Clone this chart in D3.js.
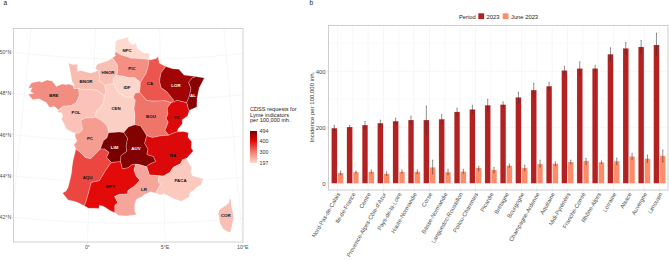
<!DOCTYPE html>
<html><head><meta charset="utf-8">
<style>html,body{margin:0;background:#fff}svg{display:block;font-family:"Liberation Sans",Arial,sans-serif}</style>
<script src="https://cdn.jsdelivr.net/npm/d3@7"></script></head>
<body><svg id="c" width="669" height="261"></svg>
<script>
// ---- bar chart data
const categories=["Nord-Pas-de-Calais","Ile-de-France","Centre","Provence-Alpes-Côte-d'Azur","Pays-de-la-Loire","Haute-Normandie","Corse","Basse-Normandie","Languedoc-Roussillon","Poitou-Charentes","Picardie","Bretagne","Bourgogne","Champagne-Ardenne","Aquitaine","Midi-Pyrénées","Franche-Comté","Rhône-Alpes","Lorraine","Alsace","Auvergne","Limousin"];
const regionCodes=["NPC","IDF","CEN","PACA","POL","HNOR","COR","BNOR","LR","PC","PIC","BRE","BOU","CA","AQU","MPY","FC","RA","LOR","AL","AUV","LIM"];
const values2023=[197,201,208,215,222,226,226,229,255,264,279,281,307,333,347,403,410,410,461,482,487,494];
const upper2023=[207,207,221,226,233,240,276,246,268,279,300,291,326,357,361,418,434,421,484,503,510,536];
const lower2023=[187,195,195,204,211,212,176,212,242,249,258,271,288,309,333,388,386,399,438,461,464,456];
const valuesJune=[37,40,41,34,41,41,57,40,42,55,48,63,55,69,70,76,80,75,79,96,88,98];
const upperJune=[44,44,48,41,48,48,83,50,50,61,57,69,65,83,77,83,89,80,90,107,101,119];
const lowerJune=[30,37,36,28,36,35,33,31,36,45,38,57,45,58,63,69,67,70,67,86,75,76];
const yTicks=[0,200,400];
const periods=["2023","June 2023"];
const periodColors=["#B22222","#FF8C69"];

// ---- map data: borders in degrees (longitude, latitude)
const bNpcCoast=[[1.58,50.37],[1.56,50.5],[1.58,50.72],[1.58,50.87],[1.85,50.96],[2.38,51.04],[2.55,51.08],[2.6,50.85],[2.9,50.7],[3.15,50.78],[3.28,50.52],[3.7,50.32],[3.72,50.3],[4.2,50.27],[4.15,49.98]];
const bPicCoast=[[1.58,50.37],[1.55,50.2],[1.62,50.18],[1.37,50.06]];
const bNhorCoast=[[1.37,50.06],[1.08,49.93],[.37,49.76],[.17,49.68],[.1,49.49],[.3,49.43]];
const bBnorCoast=[[.3,49.43],[.07,49.36],[-.25,49.28],[-.62,49.34],[-1.05,49.39],[-1.24,49.33],[-1.26,49.59],[-1.26,49.68],[-1.62,49.65],[-1.94,49.72],[-1.79,49.37],[-1.6,48.84],[-1.4,48.65],[-1.5,48.63]];
const bBreCoast=[[-1.5,48.63],[-1.85,48.69],[-2.02,48.65],[-2.32,48.68],[-2.73,48.53],[-3.04,48.78],[-3.44,48.82],[-3.85,48.68],[-3.98,48.72],[-4.57,48.62],[-4.77,48.33],[-4.49,48.38],[-4.6,48.2],[-4.33,48.1],[-4.73,48.04],[-4.37,47.8],[-3.92,47.87],[-3.37,47.72],[-3.12,47.5],[-2.76,47.55],[-2.45,47.4]];
const bPolCoast=[[-2.45,47.4],[-2.52,47.3],[-2.2,47.27],[-2.1,47.11],[-2.2,46.97],[-1.94,46.69],[-1.79,46.49],[-1.3,46.33],[-1.15,46.33]];
const bPcCoast=[[-1.15,46.33],[-1.15,46.16],[-1,45.94],[-1.2,45.75],[-1.05,45.55]];
const bAquCoast=[[-1.05,45.55],[-1.2,45.0],[-1.25,44.65],[-1.26,44.4],[-1.3,44.2],[-1.44,43.66],[-1.56,43.48],[-1.79,43.37],[-1.4,43.05],[-1,43],[-.75,42.95],[-.3,42.8]];
const bMpyFrontier=[[-.3,42.8],[0,42.69],[.35,42.7],[.68,42.7],[.7,42.85],[1,42.8],[1.44,42.6],[1.74,42.5]];
const bLrCoast=[[1.74,42.5],[2,42.37],[2.5,42.35],[3.17,42.43],[3.04,42.6],[3.04,42.9],[3.16,43.17],[3.5,43.28],[3.7,43.4],[4.13,43.53],[4.45,43.45]];
const bPacaCoast=[[4.45,43.45],[4.85,43.35],[4.95,43.43],[5.35,43.3],[5.54,43.2],[5.93,43.08],[6.15,43.03],[6.68,43.2],[6.75,43.42],[7.02,43.54],[7.27,43.69],[7.53,43.78],[7.7,44.07],[7,44.23],[6.87,44.42],[6.95,44.65],[6.63,45.1]];
const bRaFrontier=[[6.63,45.1],[7.12,45.45],[7,45.6],[7.04,45.92],[6.8,46.13],[6.85,46.35],[6.5,46.42],[6.07,46.42]];
const bFcFrontier=[[6.07,46.42],[6.12,46.56],[6.45,46.8],[6.45,47],[6.85,47.17],[7,47.45]];
const bAlFrontier=[[7,47.45],[7.55,47.58],[7.6,48],[7.8,48.5],[8.23,48.97],[7.6,49.07]];
const bLorFrontier=[[7.6,49.07],[6.73,49.17],[6.37,49.47],[5.9,49.5],[5.39,49.62]];
const bCaFrontier=[[5.39,49.62],[4.9,49.8],[4.83,50.15],[4.7,50.03],[4.25,49.96],[4.15,49.98]];
const bNpcPic=[[1.58,50.37],[2,50.2],[2.45,50.13],[2.75,50.05],[3.1,50.05],[3.6,50.02],[4.15,49.98]];
const bPicCa=[[4.15,49.98],[4.05,49.6],[3.9,49.3],[3.65,49.05],[3.48,48.87]];
const bPicIdf=[[3.48,48.87],[3.07,49.1],[2.6,49.1],[2.2,49.17],[1.7,49.2]];
const bPicNhor=[[1.7,49.2],[1.78,49.45],[1.75,49.7],[1.37,50.06]];
const bNhorIdf=[[1.7,49.2],[1.45,49.05],[1.5,48.8]];
const bNhorCen=[[1.5,48.8],[1.2,48.78],[.85,48.7]];
const bNhorBnor=[[.85,48.7],[.6,48.85],[.4,48.9],[.4,49.25],[.3,49.43]];
const bIdfCen=[[1.5,48.8],[1.6,48.65],[1.8,48.4],[2,48.3],[2.4,48.15],[2.95,48.15]];
const bIdfBou=[[2.95,48.15],[3.1,48.35],[3.42,48.38]];
const bIdfCa=[[3.42,48.38],[3.45,48.6],[3.48,48.87]];
const bCaBou=[[3.42,48.38],[3.6,48.25],[3.9,48],[4.3,47.95],[4.85,47.95],[5.3,47.95],[5.7,47.85]];
const bCaLor=[[5.7,47.85],[5.9,47.97],[5.4,48.4],[5,48.6],[4.9,48.9],[5,49.3],[5.39,49.62]];
const bLorFc=[[5.7,47.85],[6.15,47.95],[6.83,47.82]];
const bLorAl=[[6.83,47.82],[7,48.05],[7.1,48.25],[7.2,48.5],[7.05,48.8],[7.3,49],[7.6,49.07]];
const bFcAl=[[6.83,47.82],[6.93,47.5],[7,47.45]];
const bFcBou=[[5.7,47.85],[5.4,47.6],[5.45,47.3],[5.3,47.1],[5.45,46.9],[5.2,46.5],[5.47,46.27]];
const bFcRa=[[5.47,46.27],[5.65,46.33],[6.07,46.42]];
const bBouRa=[[5.47,46.27],[4.9,46.25],[4.3,46.17],[3.9,46.27]];
const bBouAuv=[[3.9,46.27],[3.7,46.5],[3.45,46.75],[3.05,46.8]];
const bBouCen=[[3.05,46.8],[3.07,47.3],[3,47.6],[3.1,48],[2.95,48.15]];
const bCenAuv=[[3.05,46.8],[2.6,46.7],[2.28,46.42]];
const bAuvLim=[[2.28,46.42],[2.55,46.15],[2.45,45.75],[2.5,45.5],[2.1,45.3],[2.07,45]];
const bAuvMpy=[[2.07,45],[2.2,44.65],[2.6,44.7],[2.85,44.85],[3.12,44.88]];
const bAuvLr=[[3.12,44.88],[3.4,44.85],[3.87,44.75]];
const bAuvRa=[[3.87,44.75],[4,44.85],[4.5,45],[4.35,45.25],[3.9,45.35],[3.98,45.6],[3.75,45.9],[3.9,46.27]];
const bLimMpy=[[2.07,45],[1.43,44.95]];
const bLimAqu=[[1.43,44.95],[1.1,45.2],[1.25,45.45],[.95,45.6],[.65,45.6]];
const bLimPc=[[.65,45.6],[.85,46],[1.1,46.15],[1.2,46.4]];
const bLimCen=[[1.2,46.4],[1.95,46.45],[2.28,46.42]];
const bPcCen=[[1.2,46.4],[1.1,46.7],[.85,46.9],[.65,47],[.2,47.15]];
const bPcPol=[[.2,47.15],[.05,47.1],[-.5,47.08],[-.8,46.95],[-.65,46.5],[-.9,46.32],[-1.15,46.33]];
const bPcAqu=[[-1.05,45.55],[-.75,45.4],[-.35,45.15],[0,45.1],[.25,45.3],[.65,45.6]];
const bCenPol=[[.2,47.15],[.3,47.45],[.6,47.65],[.8,47.88],[.83,48.2]];
const bCenBnor=[[.83,48.2],[.95,48.4],[.85,48.7]];
const bPolBnor=[[.83,48.2],[.3,48.45],[-.2,48.48],[-.75,48.45],[-1.07,48.5]];
const bBreBnor=[[-1.07,48.5],[-1.43,48.48],[-1.5,48.63]];
const bBrePol=[[-1.07,48.5],[-1,48.15],[-1.2,47.8],[-1.55,47.65],[-2.1,47.6],[-2.45,47.4]];
const bAquMpy=[[1.43,44.95],[1.05,44.55],[.85,44.3],[.65,44.05],[.1,43.95],[0,43.6],[-.1,43.3],[-.2,43],[-.3,42.8]];
const bMpyLr=[[3.12,44.88],[3,44.6],[3.15,44.3],[3.4,44.1],[3.1,43.85],[2.6,43.6],[2.55,43.42],[2,43.4],[1.7,43.3],[1.93,43],[1.73,42.87],[1.74,42.5]];
const bRaLr=[[3.87,44.75],[4.05,44.35],[4.7,44.3]];
const bRaPaca=[[4.7,44.3],[5,44.28],[5.45,44.45],[5.7,44.7],[6.2,44.85],[6.35,45.05],[6.63,45.1]];
const bLrPaca=[[4.7,44.3],[4.65,44],[4.8,43.9],[4.65,43.7],[4.45,43.45]];
const ringCor=[[9.38,43.01],[9.47,42.95],[9.45,42.7],[9.55,42.1],[9.4,41.7],[9.27,41.4],[9.15,41.38],[8.8,41.55],[8.6,41.9],[8.6,42.05],[8.55,42.35],[8.7,42.55],[9.1,42.7],[9.3,42.8]];
const regionBorders={
 NPC:[bNpcCoast,bNpcPic],
 PIC:[bPicCoast,bPicNhor,bPicIdf,bPicCa,bNpcPic],
 HNOR:[bNhorCoast,bNhorBnor,bNhorCen,bNhorIdf,bPicNhor],
 BNOR:[bBnorCoast,bBreBnor,bPolBnor,bCenBnor,bNhorBnor],
 BRE:[bBreCoast,bBrePol,bBreBnor],
 POL:[bPolCoast,bPcPol,bCenPol,bPolBnor,bBrePol],
 IDF:[bPicIdf,bNhorIdf,bIdfCen,bIdfBou,bIdfCa],
 CA:[bCaFrontier,bPicCa,bIdfCa,bCaBou,bCaLor],
 LOR:[bLorFrontier,bCaLor,bLorFc,bLorAl],
 AL:[bAlFrontier,bLorAl,bFcAl],
 CEN:[bNhorCen,bIdfCen,bBouCen,bCenAuv,bLimCen,bPcCen,bCenPol,bCenBnor],
 BOU:[bCaBou,bFcBou,bBouRa,bBouAuv,bBouCen,bIdfBou],
 FC:[bFcFrontier,bFcAl,bLorFc,bFcBou,bFcRa],
 PC:[bPcCoast,bPcAqu,bLimPc,bPcCen,bPcPol],
 LIM:[bLimCen,bAuvLim,bLimMpy,bLimAqu,bLimPc],
 AUV:[bBouAuv,bAuvRa,bAuvLr,bAuvMpy,bAuvLim,bCenAuv],
 RA:[bRaFrontier,bFcRa,bBouRa,bAuvRa,bRaLr,bRaPaca],
 AQU:[bAquCoast,bAquMpy,bLimAqu,bPcAqu],
 MPY:[bMpyFrontier,bMpyLr,bAuvMpy,bLimMpy,bAquMpy],
 LR:[bLrCoast,bLrPaca,bRaLr,bAuvLr,bMpyLr],
 PACA:[bPacaCoast,bRaPaca,bLrPaca]
};
const labelCodes=["NPC","PIC","HNOR","BNOR","BRE","IDF","CA","LOR","AL","CEN","POL","BOU","FC","LIM","AUV","PC","RA","AQU","MPY","LR","PACA","COR"];
const labelLon=[2.47,2.85,1.06,-.56,-2.86,2.48,4.18,6.1,7.32,1.7,-1.18,4.22,6.08,1.64,3.14,-.1,5.7,-.16,1.41,3.67,6.16,9.04];
const labelLat=[50.45,49.57,49.33,48.89,48.1,48.65,48.84,48.7,48.18,47.62,47.35,47.23,47.1,45.67,45.67,46.11,45.3,44.2,43.8,43.64,44.06,42.2];
const whiteLabels=["LIM","AUV","LOR","AL"];
const latTicks=[42,44,46,48,50];
const lonTicks=[0,5,10];
const legendTicks=[197,300,400,494];
const legendColors=["#fdd9cf","#f07c70","#e60a0a","#7a0000"];
const legendTitle=["CDSS requests for","Lyme indicators","per 100,000 inh."];

const svg=d3.select("#c");
const gray="#4d4d4d",frame="#c8c8c8",grid="#f0f0f0";
const txt=(x,y,s,size,fill,anchor)=>svg.append("text").attr("x",x).attr("y",y).attr("font-size",size).attr("fill",fill||gray).attr("text-anchor",anchor||"start").text(s);
txt(3.5,5.3,"a",6.5,"#222"); txt(309.5,5.3,"b",6.5,"#222");

// ---- map panel
const P={l:13.5,r:243,t:28.5,b:242};
const projection=d3.geoConicConformal().parallels([44,49]).rotate([-3,0]).center([0,46.5]).scale(1175).translate([134,131]).precision(.1);
const path=d3.geoPath(projection);
svg.append("clipPath").attr("id","mapclip").append("rect").attr("x",P.l).attr("y",P.t).attr("width",P.r-P.l).attr("height",P.b-P.t);
const mapG=svg.append("g").attr("clip-path","url(#mapclip)");
const grat=d3.geoGraticule().extent([[-15,38],[18,55]]).step([5,2]).precision(1);
mapG.append("path").datum(grat()).attr("d",path).attr("fill","none").attr("stroke","#ececec").attr("stroke-width",.5);

const valueOf=Object.fromEntries(regionCodes.map((c,i)=>[c,values2023[i]]));
const color=d3.scaleLinear().domain(legendTicks).range(legendColors);
function chain(arcs){
 const d=(a,b)=>Math.hypot(a[0]-b[0],a[1]-b[1]);
 let out=arcs[0].slice();
 const n=arcs[1];
 if(Math.min(d(out[0],n[0]),d(out[0],n[n.length-1]))<Math.min(d(out[out.length-1],n[0]),d(out[out.length-1],n[n.length-1]))) out.reverse();
 for(const a of arcs.slice(1)){
  const e=out[out.length-1];
  const s=d(e,a[0])<=d(e,a[a.length-1])?a.slice():a.slice().reverse();
  out=out.concat(s.slice(1));
 }
 if(d(out[0],out[out.length-1])>0) out.push(out[0]);
 return out;
}
function feature(ring){
 let f={type:"Feature",geometry:{type:"Polygon",coordinates:[ring]}};
 if(d3.geoArea(f)>2*Math.PI) f.geometry.coordinates=[ring.slice().reverse()];
 return f;
}
const regions=Object.entries(regionBorders).map(([k,a])=>({code:k,feature:feature(chain(a))}));
regions.push({code:"COR",feature:feature(ringCor.concat([ringCor[0]]))});
mapG.selectAll("path.reg").data(regions).join("path").attr("class","reg").attr("d",d=>path(d.feature))
 .attr("fill",d=>color(valueOf[d.code])).attr("stroke","#fff").attr("stroke-opacity",.65).attr("stroke-width",.4).attr("stroke-linejoin","round");
svg.append("rect").attr("x",P.l).attr("y",P.t).attr("width",P.r-P.l).attr("height",P.b-P.t).attr("fill","none").attr("stroke",frame).attr("stroke-width",.8);
labelCodes.forEach((c,i)=>{const p=projection([labelLon[i],labelLat[i]]);
 svg.append("text").attr("x",p[0]).attr("y",p[1]+1.6).attr("text-anchor","middle").attr("font-size",4.4).attr("font-weight","bold")
  .attr("fill",whiteLabels.includes(c)?"#fff":"#111").text(c);});
// graticule tick positions: find where each line leaves the panel
function solve(f,target,lo,hi){for(let i=0;i<40;i++){const m=(lo+hi)/2;if((f(m)-target)*(f(lo)-target)<=0)hi=m;else lo=m;}return (lo+hi)/2;}
latTicks.forEach(la=>{const lon=solve(o=>projection([o,la])[0],P.l,-15,3);const y=projection([lon,la])[1];
 svg.append("line").attr("x1",P.l-1.5).attr("x2",P.l).attr("y1",y).attr("y2",y).attr("stroke",frame).attr("stroke-width",.6);
 txt(P.l-2.2,y+1.9,la+"°N",5.3,gray,"end");});
lonTicks.forEach(lo=>{const la=solve(a=>projection([lo,a])[1],P.b,36,46);const x=projection([lo,la])[0];
 svg.append("line").attr("x1",x).attr("x2",x).attr("y1",P.b).attr("y2",P.b+1.5).attr("stroke",frame).attr("stroke-width",.6);
 txt(x,P.b+7,lo===0?"0°":lo+"°E",5.3,gray,"middle");});
// colour legend
legendTitle.forEach((s,i)=>txt(250,111+i*5.6,s,5.6,"#222"));
const lg=svg.append("linearGradient").attr("id","lg").attr("x1",0).attr("x2",0).attr("y1",1).attr("y2",0);
const legY=d3.scaleLinear().domain([197,494]).range([163,131]);
legendTicks.forEach(t=>lg.append("stop").attr("offset",(t-197)/(494-197)).attr("stop-color",color(t)));
svg.append("rect").attr("x",250).attr("y",131).attr("width",7).attr("height",32).attr("fill","url(#lg)");
legendTicks.forEach(t=>txt(259.5,legY(t)+1.9,t,5.3,"#333"));

// ---- bar panel
const B={l:328.5,r:668,t:25.5,b:190};
const y=d3.scaleLinear().domain([0,400]).range([183.3,71.3]);
const x=d3.scaleBand().domain(categories).range([329.8,667.3]);
const bw=5.6,off=3.15;
const minor=[100,300,500];
minor.forEach(v=>svg.append("line").attr("x1",B.l).attr("x2",B.r).attr("y1",y(v)).attr("y2",y(v)).attr("stroke","#f6f6f6").attr("stroke-width",.4));
yTicks.forEach(v=>svg.append("line").attr("x1",B.l).attr("x2",B.r).attr("y1",y(v)).attr("y2",y(v)).attr("stroke",grid).attr("stroke-width",.6));
const cx=c=>x(c)+x.bandwidth()/2;
categories.forEach(c=>svg.append("line").attr("x1",cx(c)).attr("x2",cx(c)).attr("y1",B.t).attr("y2",B.b).attr("stroke",grid).attr("stroke-width",.6));
const series=[{v:values2023,u:upper2023,l:lower2023,o:-off,c:periodColors[0]},{v:valuesJune,u:upperJune,l:lowerJune,o:off,c:periodColors[1]}];
series.forEach(s=>{
 const g=svg.append("g");
 g.selectAll("rect").data(categories).join("rect").attr("x",d=>cx(d)+s.o-bw/2).attr("width",bw)
  .attr("y",(d,i)=>y(s.v[i])).attr("height",(d,i)=>y(0)-y(s.v[i])).attr("fill",s.c).attr("stroke","#fff").attr("stroke-opacity",.5).attr("stroke-width",.3);
});
series.forEach(s=>{
 categories.forEach((c,i)=>{const X=cx(c)+s.o;
  svg.append("line").attr("x1",X).attr("x2",X).attr("y1",y(s.u[i])).attr("y2",y(s.l[i])).attr("stroke","#333").attr("stroke-width",.55);
  [s.u[i],s.l[i]].forEach(v=>svg.append("line").attr("x1",X-.6).attr("x2",X+.6).attr("y1",y(v)).attr("y2",y(v)).attr("stroke","#333").attr("stroke-width",.4));
 });
});
svg.append("rect").attr("x",B.l).attr("y",B.t).attr("width",B.r-B.l).attr("height",B.b-B.t).attr("fill","none").attr("stroke",frame).attr("stroke-width",.9);
const axY=svg.append("g").attr("transform",`translate(${B.l},0)`).call(d3.axisLeft(y).tickValues(yTicks).tickSize(1.6).tickPadding(1.2));
axY.select(".domain").remove();axY.selectAll("line").attr("stroke",frame).attr("stroke-width",.6);
axY.selectAll("text").attr("font-size",6).attr("font-family",null).attr("fill",gray);
const axX=svg.append("g").attr("transform",`translate(0,${B.b})`).call(d3.axisBottom(x).tickSize(1.6).tickFormat(""));
axX.select(".domain").remove();axX.selectAll("line").attr("stroke",frame).attr("stroke-width",.6);
categories.forEach(c=>svg.append("text").attr("transform",`translate(${cx(c)+3},${B.b+4}) rotate(-60)`).attr("text-anchor","end").attr("font-size",5.8).attr("fill",gray).text(c));
svg.append("text").attr("transform","translate(314,107) rotate(-90)").attr("text-anchor","middle").attr("font-size",6).attr("fill","#333").text("Incidence per 100,000 inh.");
// period legend
txt(459,18.5,"Period",5.8,"#222");
svg.append("rect").attr("x",478.3).attr("y",13.3).attr("width",5.8).attr("height",5.8).attr("fill",periodColors[0]);
txt(486.5,18.5,periods[0],5.8,"#222");
svg.append("rect").attr("x",502.7).attr("y",13.3).attr("width",5.8).attr("height",5.8).attr("fill",periodColors[1]);
txt(511,18.5,periods[1],5.8,"#222");
</script></body></html>
